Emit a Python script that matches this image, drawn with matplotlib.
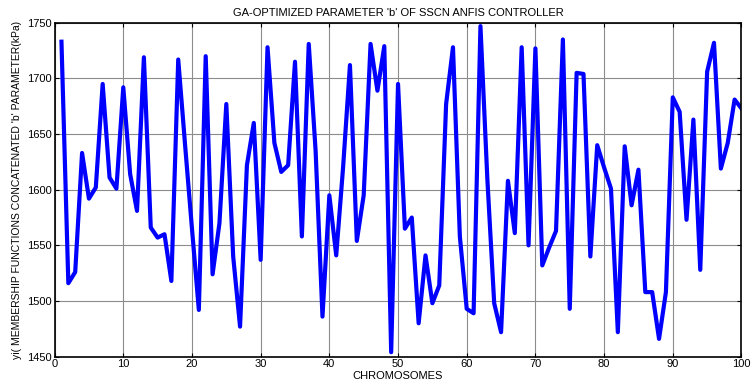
import matplotlib
matplotlib.use("Agg")
import matplotlib.pyplot as plt
import numpy as np

# chromosome index and the GA-optimized 'b' parameter
chromosomes = np.arange(1, 101)
b_param = [
    1733, 1516, 1526, 1633, 1592, 1602, 1695, 1611, 1601, 1692,
    1614, 1581, 1719, 1566, 1557, 1560, 1518, 1717, 1640, 1565,
    1492, 1720, 1524, 1570, 1677, 1540, 1477, 1622, 1660, 1537,
    1728, 1642, 1616, 1622, 1715, 1558, 1731, 1635, 1486, 1595,
    1541, 1620, 1712, 1554, 1595, 1731, 1689, 1729, 1454, 1695,
    1565, 1575, 1480, 1541, 1498, 1514, 1677, 1728, 1558, 1493,
    1489, 1747, 1610, 1498, 1472, 1608, 1561, 1728, 1550, 1727,
    1532, 1548, 1563, 1735, 1493, 1705, 1704, 1540, 1640, 1620,
    1601, 1472, 1639, 1586, 1618, 1508, 1508, 1466, 1508, 1683,
    1670, 1573, 1663, 1528, 1706, 1732, 1619, 1642, 1681, 1673,
]
x_ticks = list(range(0, 101, 10))
y_ticks = list(range(1450, 1751, 50))

plt.rcParams["font.family"] = ["Liberation Sans", "DejaVu Sans"]

fig = plt.figure(figsize=(7.52, 3.86), dpi=100)
ax = fig.add_axes([0.0726, 0.076, 0.9134, 0.865])

ax.plot(chromosomes, b_param, color="#0000ff", lw=3)

ax.set_xlim(0, 100)
ax.set_ylim(1450, 1750)
ax.set_xticks(x_ticks)
ax.set_yticks(y_ticks)
ax.grid(True, color="0.55", lw=0.8)
ax.tick_params(direction="in", top=True, right=True, labelsize=8, length=3, pad=2)
for s in ax.spines.values():
    s.set_linewidth(1.2)

ax.set_title("GA-OPTIMIZED PARAMETER 'b' OF SSCN ANFIS CONTROLLER", fontsize=8, pad=5)
ax.set_xlabel("CHROMOSOMES", fontsize=8, labelpad=1)
ax.set_ylabel("yi( MEMBERSHIP FUNCTIONS CONCATENATED 'b' PARAMETER(kPa)", fontsize=7.5, labelpad=4)

fig.savefig("out.png", dpi=100)
